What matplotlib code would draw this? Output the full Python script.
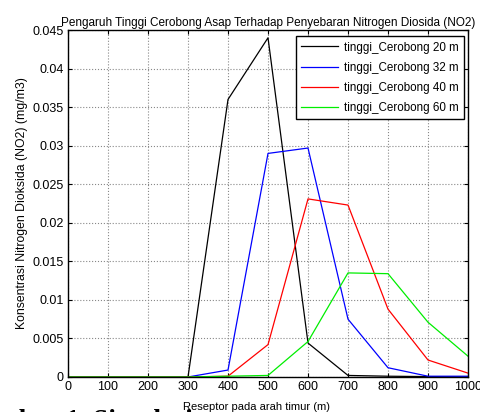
import numpy as np
import matplotlib.pyplot as plt

# ── data ─────────────────────────────────────────────────────────────────────
jarak = [0, 100, 200, 300, 400, 500, 600, 700, 800, 900, 1000]

no2_20m = [0, 0, 0, 0, 0.0360, 0.0440, 0.0044, 0.0002, 0.0001, 0.00005, 0.0]
no2_32m = [0, 0, 0, 0, 0.0009, 0.0290, 0.0297, 0.0075, 0.0012, 0.0001, 0.0001]
no2_40m = [0, 0, 0, 0, 0.0001, 0.0042, 0.0231, 0.0223, 0.0088, 0.0022, 0.0005]
no2_60m = [0, 0, 0, 0, 0.0001, 0.0002, 0.0046, 0.0135, 0.0134, 0.0071, 0.0027]

labels = ["tinggi_Cerobong 20 m", "tinggi_Cerobong 32 m",
          "tinggi_Cerobong 40 m", "tinggi_Cerobong 60 m"]
colors = ["black", "blue", "red", "#00ee00"]

xticks = list(range(0, 1001, 100))
yticks = [0, 0.005, 0.01, 0.015, 0.02, 0.025, 0.03, 0.035, 0.04, 0.045]
ytick_labels = ["0", "0.005", "0.01", "0.015", "0.02", "0.025", "0.03",
                "0.035", "0.04", "0.045"]

# ── plot ─────────────────────────────────────────────────────────────────────
plt.rcParams["font.family"] = ["Liberation Sans", "DejaVu Sans"]

fig = plt.figure(figsize=(4.8, 4.12), dpi=100)
ax = fig.add_axes([0.1417, 0.085, 0.8333, 0.842])

for y, lab, c in zip([no2_20m, no2_32m, no2_40m, no2_60m], labels, colors):
    ax.plot(jarak, y, color=c, linewidth=0.9, label=lab)

ax.set_xlim(0, 1000)
ax.set_ylim(0, 0.045)
ax.set_xticks(xticks)
ax.set_yticks(yticks)
ax.set_yticklabels(ytick_labels)
ax.tick_params(direction="in", top=True, right=True, length=3,
               labelsize=9, pad=3, color="black")
ax.grid(True, color="#888888", linestyle=":", linewidth=0.8)
for sp in ax.spines.values():
    sp.set_linewidth(1.0)

ax.set_title("Pengaruh Tinggi Cerobong Asap Terhadap Penyebaran Nitrogen Diosida (NO2)",
             fontsize=8.5, pad=3)
ax.set_ylabel("Konsentrasi Nitrogen Dioksida (NO2) (mg/m3)", fontsize=8.8, labelpad=3)

leg = ax.legend(loc="upper right", fontsize=8.4, handlelength=3.2,
                fancybox=False, framealpha=1, edgecolor="black",
                borderpad=0.45, labelspacing=0.7, handletextpad=0.5,
                borderaxespad=0, bbox_to_anchor=(0.99, 0.982))
leg.get_frame().set_linewidth(1.0)

# caption of the source document, mostly cut off by the bottom edge
fig.text(0.04, -0.038, "bar 1. Simulasi", fontsize=19.5, fontweight="bold",
         family=["Liberation Serif", "DejaVu Serif"], va="baseline", ha="left")
fig.text(0.535, 0.006, "Reseptor pada arah timur (m)", fontsize=8,
         ha="center", va="baseline")

fig.savefig("out.png", dpi=100)
